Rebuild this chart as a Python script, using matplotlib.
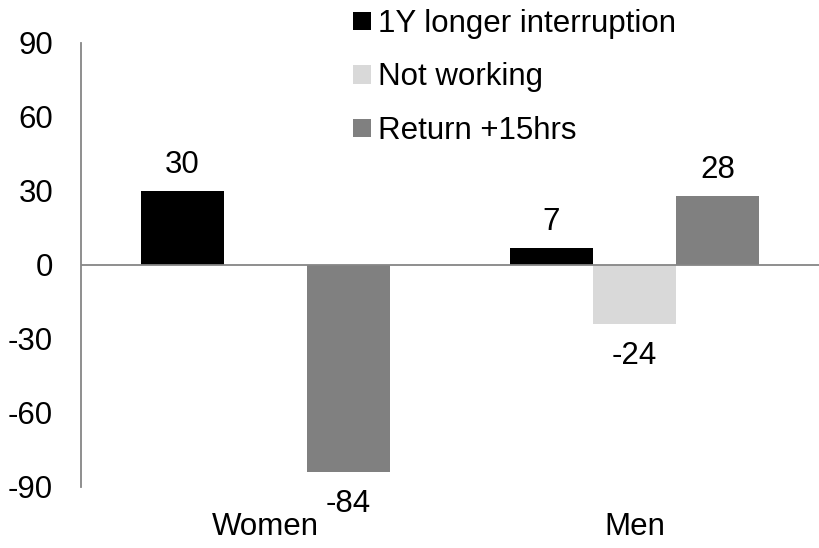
import numpy as np
import matplotlib.pyplot as plt

plt.rcParams['font.family'] = ['Liberation Sans', 'DejaVu Sans']
plt.rcParams['axes.unicode_minus'] = False

categories = ["Women", "Men"]
series_names = ["1Y longer interruption", "Not working", "Return +15hrs"]
values = {
    "1Y longer interruption": [30, 7],
    "Not working": [np.nan, -24],
    "Return +15hrs": [-84, 28],
}
colors = ["#000000", "#d9d9d9", "#808080"]
yticks = [-90, -60, -30, 0, 30, 60, 90]
fs = 22.5

fig = plt.figure(figsize=(8.19, 5.48), dpi=100)
ax = fig.add_axes([81 / 819, 1 - 487 / 548, 1 - 81 / 819, (487 - 43) / 548])

x = np.arange(len(categories))
width = 0.225
for i, name in enumerate(series_names):
    vals = np.array(values[name], dtype=float)
    pos = x + (i - 1) * width
    ax.bar(pos, np.nan_to_num(vals), width, color=colors[i], label=name)
    for px, v in zip(pos, vals):
        if np.isnan(v):
            continue
        if v >= 0:
            ax.annotate(f"{v:.0f}", (px, v), xytext=(0, 8), textcoords="offset points",
                        ha="center", va="bottom", fontsize=fs)
        else:
            ax.annotate(f"{v:.0f}", (px, v), xytext=(0, -12), textcoords="offset points",
                        ha="center", va="top", fontsize=fs)

ax.set_xlim(-0.5, 1.5)
ax.set_ylim(-90, 90)
ax.set_yticks(yticks)
ax.set_xticks(x)
ax.set_xticklabels(categories)
ax.tick_params(axis="y", length=0, pad=20, labelsize=fs)
ax.tick_params(axis="x", length=0, pad=18, labelsize=fs)
for s in ["top", "right", "bottom"]:
    ax.spines[s].set_visible(False)
ax.spines["left"].set_color("#868686")
ax.spines["left"].set_linewidth(1.3)
ax.axhline(0, color="#868686", linewidth=1.3, zorder=3)

fig.legend(loc="upper left", bbox_to_anchor=(353 / 819, 1 - 9 / 548), frameon=False,
           fontsize=fs, handlelength=0.58, handleheight=0.54, handletextpad=0.22,
           borderpad=0, borderaxespad=0, labelspacing=0.75)

fig.savefig("out.png", dpi=100)
